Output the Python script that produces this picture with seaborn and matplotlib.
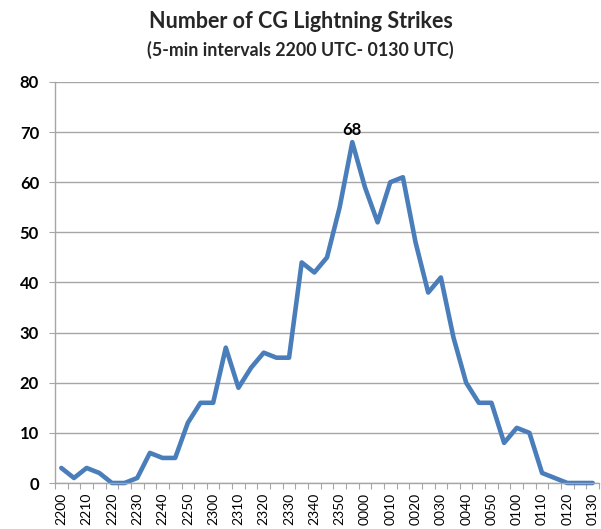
import matplotlib
matplotlib.use("Agg")
import matplotlib.pyplot as plt
import seaborn as sns
import pandas as pd
import numpy as np

times = ["2200", "2205", "2210", "2215", "2220", "2225", "2230", "2235", "2240", "2245",
         "2250", "2255", "2300", "2305", "2310", "2315", "2320", "2325", "2330", "2335",
         "2340", "2345", "2350", "2355", "0000", "0005", "0010", "0015", "0020", "0025",
         "0030", "0035", "0040", "0045", "0050", "0055", "0100", "0105", "0110", "0115",
         "0120", "0125", "0130"]
strikes = [3, 1, 3, 2, 0, 0, 1, 6, 5, 5,
           12, 16, 16, 27, 19, 23, 26, 25, 25, 44,
           42, 45, 55, 68, 59, 52, 60, 61, 48, 38,
           41, 29, 20, 16, 16, 8, 11, 10, 2, 1,
           0, 0, 0]
tick_labels = times[::2]
y_ticks = [0, 10, 20, 30, 40, 50, 60, 70, 80]
title = "Number of CG Lightning Strikes"
subtitle = "(5-min intervals 2200 UTC- 0130 UTC)"

sns.set_theme(style="white")
plt.rcParams['font.family'] = ['Lato', 'DejaVu Sans']

W, H = 601, 529
fig = plt.figure(figsize=(W / 100, H / 100), dpi=100)
ax = fig.add_axes([55 / W, 46 / H, 544 / W, 401 / H])

df = pd.DataFrame({"time": times, "strikes": strikes})
sns.lineplot(data=df, x="time", y="strikes", ax=ax, color="#4A7EBB",
             linewidth=3.3, sort=False)
for ln in ax.lines:
    ln.set_clip_on(False)
    ln.set_solid_joinstyle("round")

grid_c = "#A6A6A6"
ax.set_xlim(-0.5, len(times) - 0.5)
ax.set_ylim(0, 80)
ax.set_yticks(y_ticks)
ax.set_yticklabels([str(v) for v in y_ticks], fontweight="bold", fontsize=12, color="black")
ax.yaxis.grid(True, color=grid_c, linewidth=1.0)
ax.set_axisbelow(True)
ax.tick_params(axis="y", length=4.5, width=0.8, color=grid_c, pad=7, left=True)

ax.set_xticks(range(0, len(times), 2))
ax.set_xticklabels(tick_labels, rotation=90, fontsize=10, color="black", va="top")
ax.set_xticks(np.arange(-0.5, len(times), 1), minor=True)
ax.tick_params(axis="x", which="major", length=0, pad=7)
ax.tick_params(axis="x", which="minor", length=4, width=0.8, color=grid_c, bottom=True)

ax.set_xlabel("")
ax.set_ylabel("")
for s in ["top", "right"]:
    ax.spines[s].set_visible(False)
for s in ["left", "bottom"]:
    ax.spines[s].set_color(grid_c)
    ax.spines[s].set_linewidth(1.0)

peak_idx = int(np.argmax(strikes))
ax.annotate(str(strikes[peak_idx]), xy=(peak_idx, strikes[peak_idx]), xytext=(0, 3),
            textcoords="offset points", ha="center", va="bottom",
            fontweight="bold", fontsize=12, color="black")

fig.text(0.5, 1 - 22 / H, title, ha="center", va="center", fontweight="bold", fontsize=15.5)
fig.text(0.5, 1 - 50 / H, subtitle, ha="center", va="center", fontweight="bold", fontsize=12.8)

fig.savefig("out.png", dpi=100)
